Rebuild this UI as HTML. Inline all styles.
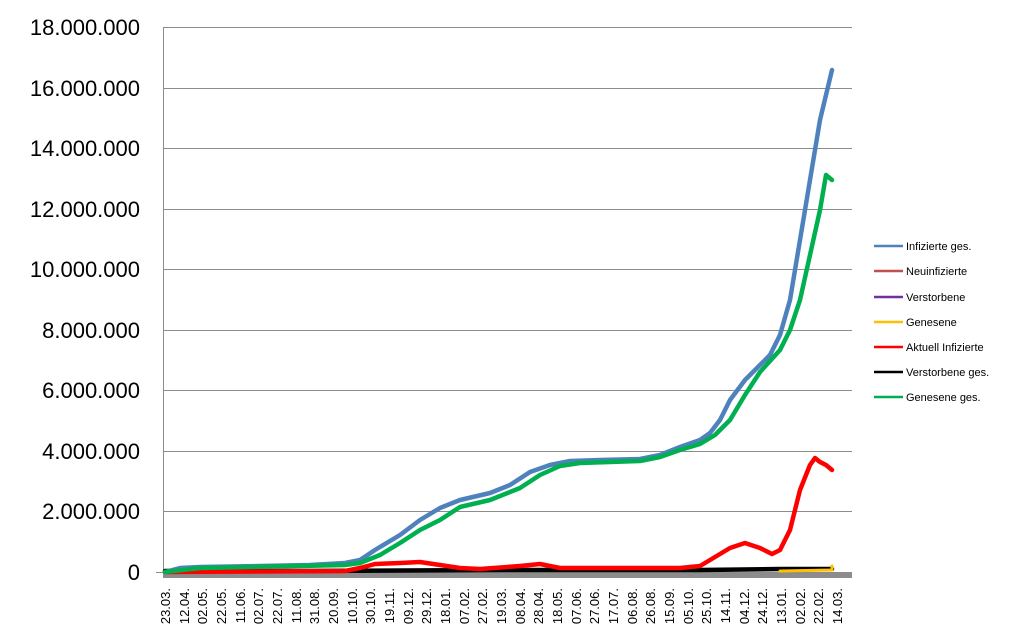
<!DOCTYPE html>
<html><head><meta charset="utf-8"><style>
html,body{margin:0;padding:0;background:#fff;}
svg{display:block;font-family:"Liberation Sans",Arial,sans-serif;}
</style></head><body>
<svg width="1011" height="639" viewBox="0 0 1011 639" xmlns="http://www.w3.org/2000/svg">
<g stroke="#8c8c8c" stroke-width="1">
<line x1="163" y1="27.5" x2="852" y2="27.5"/>
<line x1="163" y1="88.5" x2="852" y2="88.5"/>
<line x1="163" y1="148.5" x2="852" y2="148.5"/>
<line x1="163" y1="209.5" x2="852" y2="209.5"/>
<line x1="163" y1="269.5" x2="852" y2="269.5"/>
<line x1="163" y1="330.5" x2="852" y2="330.5"/>
<line x1="163" y1="390.5" x2="852" y2="390.5"/>
<line x1="163" y1="451.5" x2="852" y2="451.5"/>
<line x1="163" y1="511.5" x2="852" y2="511.5"/>
<line x1="156" y1="572.5" x2="852" y2="572.5"/>
<line x1="163.5" y1="27" x2="163.5" y2="578"/>
</g>
<rect x="164" y="573" width="688" height="5" fill="#8c8c8c"/>
<g font-size="22" text-anchor="end" fill="#000">
<text x="140" y="35">18.000.000</text>
<text x="140" y="96">16.000.000</text>
<text x="140" y="156">14.000.000</text>
<text x="140" y="217">12.000.000</text>
<text x="140" y="277">10.000.000</text>
<text x="140" y="338">8.000.000</text>
<text x="140" y="398">6.000.000</text>
<text x="140" y="459">4.000.000</text>
<text x="140" y="519">2.000.000</text>
<text x="140" y="580">0</text>
</g>
<g fill="none" stroke-width="4.5" stroke-linejoin="round" stroke-linecap="round">
<polyline stroke="#000" points="165,571 300,571 500,570 700,570 780,569 832,569"/>
<polyline stroke="#ffc000" stroke-width="3" points="780,571 832,570 832,566"/>
<polyline stroke="#ff0000" points="165,572 345,571 360,568 375,564 400,563 420,562 440,565 460,568 480,569 520,566 540,564 560,568 640,568 680,568 700,566 710,560 730,548 745,543 760,548 772,554 780,550 790,530 800,490 810,465 815,458 820,462 826,465 832,470"/>
<polyline stroke="#4f81bd" points="165,572 180,568 200,567 260,566 310,565 345,563 360,560 375,550 400,535 420,520 440,508 460,500 490,493 510,485 530,472 550,465 570,461 600,460 640,459 660,455 680,447 700,440 710,433 720,420 730,400 745,380 760,365 770,355 780,335 790,300 800,240 810,180 820,120 826,95 832,70"/>
<polyline stroke="#00b050" points="165,572 200,568 300,566 345,565 360,563 380,555 400,543 420,530 440,520 460,507 490,500 520,488 540,475 560,466 580,463 640,461 660,457 680,450 700,444 715,435 730,420 745,395 760,372 780,350 790,330 800,300 810,255 820,210 826,175 832,180"/>
</g>
<g font-size="13" fill="#000" text-anchor="end">
<text transform="translate(170,588) rotate(-90)">23.03.</text>
<text transform="translate(189,588) rotate(-90)">12.04.</text>
<text transform="translate(207,588) rotate(-90)">02.05.</text>
<text transform="translate(226,588) rotate(-90)">22.05.</text>
<text transform="translate(245,588) rotate(-90)">11.06.</text>
<text transform="translate(263,588) rotate(-90)">02.07.</text>
<text transform="translate(282,588) rotate(-90)">22.07.</text>
<text transform="translate(301,588) rotate(-90)">11.08.</text>
<text transform="translate(319,588) rotate(-90)">31.08.</text>
<text transform="translate(338,588) rotate(-90)">20.09.</text>
<text transform="translate(357,588) rotate(-90)">10.10.</text>
<text transform="translate(375,588) rotate(-90)">30.10.</text>
<text transform="translate(394,588) rotate(-90)">19.11.</text>
<text transform="translate(413,588) rotate(-90)">09.12.</text>
<text transform="translate(431,588) rotate(-90)">29.12.</text>
<text transform="translate(450,588) rotate(-90)">18.01.</text>
<text transform="translate(469,588) rotate(-90)">07.02.</text>
<text transform="translate(487,588) rotate(-90)">27.02.</text>
<text transform="translate(506,588) rotate(-90)">19.03.</text>
<text transform="translate(525,588) rotate(-90)">08.04.</text>
<text transform="translate(543,588) rotate(-90)">28.04.</text>
<text transform="translate(562,588) rotate(-90)">18.05.</text>
<text transform="translate(581,588) rotate(-90)">07.06.</text>
<text transform="translate(599,588) rotate(-90)">27.06.</text>
<text transform="translate(618,588) rotate(-90)">17.07.</text>
<text transform="translate(637,588) rotate(-90)">06.08.</text>
<text transform="translate(655,588) rotate(-90)">26.08.</text>
<text transform="translate(674,588) rotate(-90)">15.09.</text>
<text transform="translate(693,588) rotate(-90)">05.10.</text>
<text transform="translate(711,588) rotate(-90)">25.10.</text>
<text transform="translate(730,588) rotate(-90)">14.11.</text>
<text transform="translate(749,588) rotate(-90)">04.12.</text>
<text transform="translate(767,588) rotate(-90)">24.12.</text>
<text transform="translate(786,588) rotate(-90)">13.01.</text>
<text transform="translate(805,588) rotate(-90)">02.02.</text>
<text transform="translate(823,588) rotate(-90)">22.02.</text>
<text transform="translate(842,588) rotate(-90)">14.03.</text>
</g>
<g stroke-width="2.5">
<line x1="874" y1="246" x2="903" y2="246" stroke="#4f81bd"/>
<line x1="874" y1="271" x2="903" y2="271" stroke="#c0504d"/>
<line x1="874" y1="297" x2="903" y2="297" stroke="#7030a0"/>
<line x1="874" y1="322" x2="903" y2="322" stroke="#ffc000"/>
<line x1="874" y1="347" x2="903" y2="347" stroke="#ff0000"/>
<line x1="874" y1="372" x2="903" y2="372" stroke="#000"/>
<line x1="874" y1="397" x2="903" y2="397" stroke="#00b050"/>
</g>
<g font-size="11" fill="#000">
<text x="906" y="250">Infizierte ges.</text>
<text x="906" y="275">Neuinfizierte</text>
<text x="906" y="301">Verstorbene</text>
<text x="906" y="326">Genesene</text>
<text x="906" y="351">Aktuell Infizierte</text>
<text x="906" y="376">Verstorbene ges.</text>
<text x="906" y="401">Genesene ges.</text>
</g>
</svg>
</body></html>
